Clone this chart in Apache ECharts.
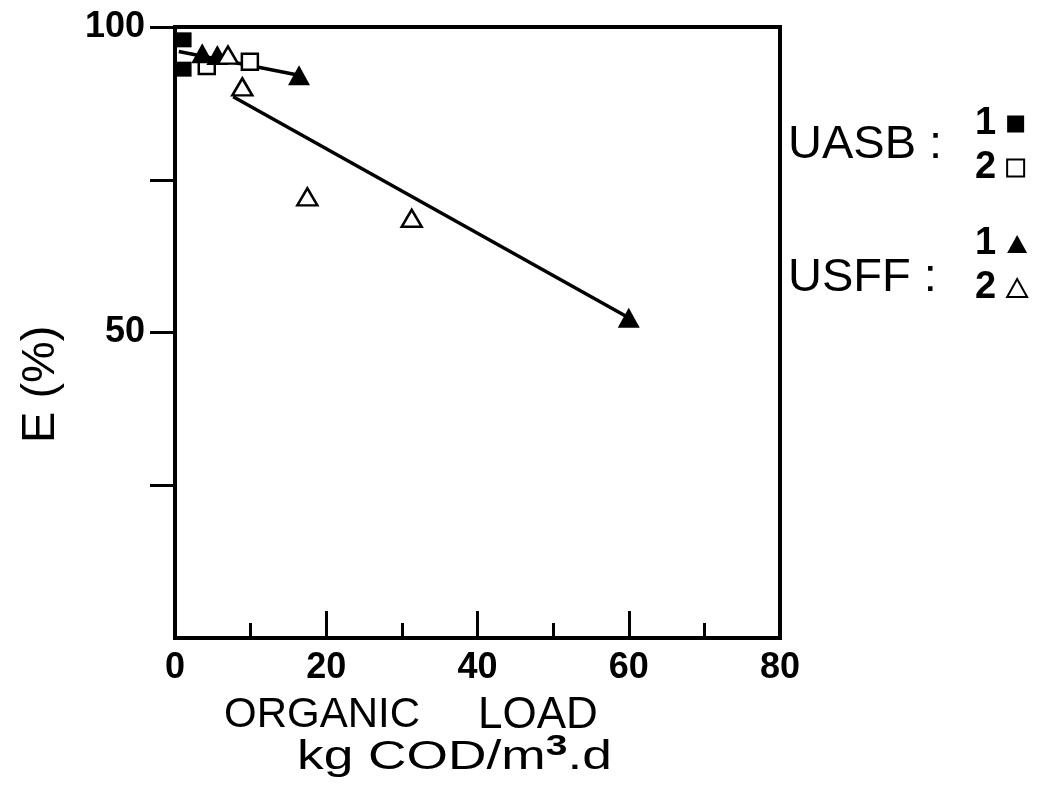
<!DOCTYPE html>
<html>
<head>
<meta charset="utf-8">
<script src="https://cdn.jsdelivr.net/npm/echarts@6/dist/echarts.min.js"></script>
<style>
  html, body { margin: 0; padding: 0; background: #fff; }
  #chart { width: 1039px; height: 798px; }
</style>
</head>
<body>
<div id="chart"></div>
<script>
// organic load (kg COD/m3.d) against removal efficiency E (%)
const uasb1 = [[1.2, 97.9], [1.2, 93.1]];
const uasb2 = [[4.2, 93.6], [9.9, 94.3]];
const usff1 = [[3.6, 95.7], [5.6, 95.4], [16.4, 92.1], [60.0, 52.4]];
const usff2 = [[7.0, 95.4], [8.9, 90.2], [17.5, 72.2], [31.3, 68.7]];
const fitShort = [[0.5, 96.0], [16.4, 92.1]];
const fitLong = [[7.7, 88.6], [60.0, 52.4]];

const xLabels = [0, 20, 40, 60, 80];
const yTicks = [25, 50, 75, 100];
const yLabels = [50, 100];

const FONT = "'Liberation Sans', Arial, sans-serif";

const chart = echarts.init(document.getElementById('chart'));

const filled = { color: '#000', borderColor: '#000', borderWidth: 0, opacity: 1 };
const hollow = { color: '#fff', borderColor: '#000', borderWidth: 2.5, opacity: 1 };

const legendBase = {
  orient: 'vertical',
  left: 970,
  align: 'right',
  selectedMode: false,
  formatter: (name) => name.split(' ')[1],
  textStyle: { fontFamily: FONT, fontSize: 38, fontWeight: 'bold', color: '#000', padding: [0, 6, 0, 0] },
};

const option = {
  backgroundColor: '#fff',
  animation: false,
  grid: {
    left: 175,
    right: 259,
    top: 27,
    bottom: 160,
    show: true,
    borderColor: '#000',
    borderWidth: 4,
    backgroundColor: 'transparent',
  },
  legend: [
    Object.assign({}, legendBase, {
      top: 100, itemGap: 6, itemWidth: 17, itemHeight: 17, data: ['UASB 1', 'UASB 2'],
    }),
    Object.assign({}, legendBase, {
      top: 220, itemGap: 6, itemWidth: 20, itemHeight: 18, data: ['USFF 1', 'USFF 2'],
    }),
  ],
  xAxis: {
    type: 'value',
    min: 0,
    max: 80,
    interval: 20,
    splitLine: { show: false },
    axisLine: { lineStyle: { color: '#000', width: 4 } },
    axisTick: { inside: true, length: 27, lineStyle: { color: '#000', width: 3 } },
    minorTick: { show: true, splitNumber: 2, length: 15, lineStyle: { color: '#000', width: 3 } },
    axisLabel: {
      customValues: xLabels,
      margin: 12,
      fontFamily: FONT,
      fontSize: 36,
      fontWeight: 'bold',
      color: '#000',
    },
  },
  yAxis: {
    type: 'value',
    min: 0,
    max: 100,
    interval: 25,
    splitLine: { show: false },
    axisLine: { lineStyle: { color: '#000', width: 4 } },
    axisTick: { customValues: yTicks, length: 25, lineStyle: { color: '#000', width: 3 } },
    axisLabel: {
      customValues: yLabels,
      margin: 30,
      fontFamily: FONT,
      fontSize: 36,
      fontWeight: 'bold',
      color: '#000',
    },
  },
  graphic: [
    {
      type: 'text', left: 788, top: 122,
      style: { text: 'UASB :', fontFamily: FONT, fontSize: 47, fill: '#000' },
    },
    {
      type: 'text', left: 788, top: 255,
      style: { text: 'USFF :', fontFamily: FONT, fontSize: 47, fill: '#000' },
    },
    {
      type: 'text', left: 224, top: 694,
      style: { text: 'ORGANIC', fontFamily: FONT, fontSize: 42, fill: '#000' },
    },
    {
      type: 'text', left: 478, top: 694,
      style: { text: 'LOAD', fontFamily: FONT, fontSize: 44, fill: '#000' },
    },
    {
      type: 'text', left: 297, top: 732, scaleX: 1.3,
      style: {
        text: '{a|kg COD/m}{s|3}{a|.d}',
        fill: '#000',
        rich: {
          a: { fontFamily: FONT, fontSize: 41, fill: '#000', verticalAlign: 'bottom' },
          s: { fontFamily: FONT, fontSize: 30, fontWeight: 'bold', fill: '#000', verticalAlign: 'top', padding: [0, 0, 16, 0] },
        },
      },
    },
    {
      type: 'text', x: 18, y: 443, rotation: Math.PI / 2,
      style: { text: 'E (%)', fontFamily: FONT, fontSize: 47, fill: '#000' },
    },
  ],
  series: [
    {
      name: 'fit short', type: 'line', data: fitShort, symbol: 'none', z: 1,
      lineStyle: { color: '#000', width: 3.5 },
    },
    {
      name: 'fit long', type: 'line', data: fitLong, symbol: 'none', z: 1,
      lineStyle: { color: '#000', width: 3.5 },
    },
    {
      name: 'UASB 1', type: 'scatter', data: uasb1, symbol: 'rect', symbolSize: 15, z: 3,
      itemStyle: filled,
    },
    {
      name: 'UASB 2', type: 'scatter', data: uasb2, symbol: 'rect', symbolSize: 16, z: 3,
      itemStyle: hollow,
    },
    {
      name: 'USFF 1', type: 'scatter', data: usff1, symbol: 'triangle', symbolSize: [22, 20], z: 3,
      itemStyle: filled,
    },
    {
      name: 'USFF 2', type: 'scatter', data: usff2, symbol: 'triangle', symbolSize: [20, 17], z: 3,
      itemStyle: hollow,
    },
  ],
};

chart.setOption(option);
window.addEventListener('resize', () => chart.resize());
</script>
</body>
</html>
